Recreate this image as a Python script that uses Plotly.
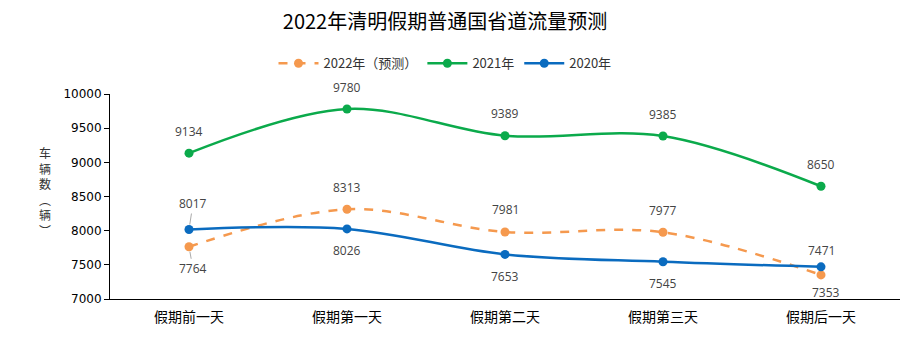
import plotly.graph_objects as go

categories = ["假期前一天", "假期第一天", "假期第二天", "假期第三天", "假期后一天"]
s2022 = [7764, 8313, 7981, 7977, 7353]
s2021 = [9134, 9780, 9389, 9385, 8650]
s2020 = [8017, 8026, 7653, 7545, 7471]
names = ["2022年（预测）", "2021年", "2020年"]
colors = ["#F5994E", "#0BAA4B", "#0A6BBF"]
# label placement: offset in px (positive = up)
off2022 = [-22, 22, 22, 22, -18]
off2021 = [22, 22, 22, 22, 22]
off2020 = [26, -22, -22, -22, 16]

fig = go.Figure()
for vals, name, col, dash in [(s2022, names[0], colors[0], "dash"),
                              (s2021, names[1], colors[1], "solid"),
                              (s2020, names[2], colors[2], "solid")]:
    fig.add_trace(go.Scatter(
        x=categories, y=vals, name=name, mode="lines+markers",
        line=dict(color=col, width=2.5, dash=dash, shape="spline", smoothing=1.0),
        marker=dict(color=col, size=9),
    ))

ann = []
lab_font = dict(family="Open Sans, DejaVu Sans, sans-serif", size=12, color="#444")
for vals, offs in [(s2022, off2022), (s2021, off2021), (s2020, off2020)]:
    for i, (c, v) in enumerate(zip(categories, vals)):
        leader = (vals is s2020 and i == 0) or (vals is s2022 and i == 0)
        if leader:
            ann.append(dict(x=c, y=v, text=str(v), showarrow=True, arrowhead=0,
                            arrowcolor="#aaa", arrowwidth=1, ax=4, ay=-offs[i],
                            standoff=5, font=lab_font))
        else:
            ann.append(dict(x=c, y=v, text=str(v), showarrow=False,
                            yshift=offs[i], xshift=(5 if (vals is s2022 and i == 4) else 0),
                            font=lab_font))

# vertical y-axis title
ann.append(dict(xref="paper", yref="paper", x=(45 - 110) / 790, y=(299 - 191) / 205,
                xanchor="center", yanchor="middle", text="车<br>辆<br>数<br>︵<br>辆<br>︶",
                showarrow=False,
                font=dict(family="Noto Sans CJK JP", size=12, color="#333")))

fig.update_layout(
    width=919, height=345,
    margin=dict(l=110, r=19, t=94, b=46),
    paper_bgcolor="white", plot_bgcolor="white",
    title=dict(text="2022年清明假期普通国省道流量预测", xref="container", x=445 / 919, xanchor="center",
               y=0.935, yanchor="middle",
               font=dict(family="Noto Sans CJK SC", size=20, color="#000")),
    legend=dict(orientation="h", x=(445 - 110) / 790, xanchor="center", y=1.15, yanchor="middle",
                font=dict(family="Noto Sans CJK SC", size=13, color="#333"),
                itemwidth=40),
    xaxis=dict(showline=True, linecolor="#000", linewidth=1, ticks="", showgrid=False,
               range=[-0.5, 4.5], ticklabelstandoff=5,
               tickfont=dict(family="Noto Sans CJK SC", size=14, color="#000")),
    yaxis=dict(range=[7000, 10000], dtick=500, tickformat="d", showline=True, linecolor="#000", linewidth=1,
               ticks="outside", ticklen=5, tickcolor="#000", showgrid=False, zeroline=False,
               tickfont=dict(family="DejaVu Sans", size=12, color="#000")),
    annotations=ann,
    showlegend=True,
)
fig.write_html("out.html")
